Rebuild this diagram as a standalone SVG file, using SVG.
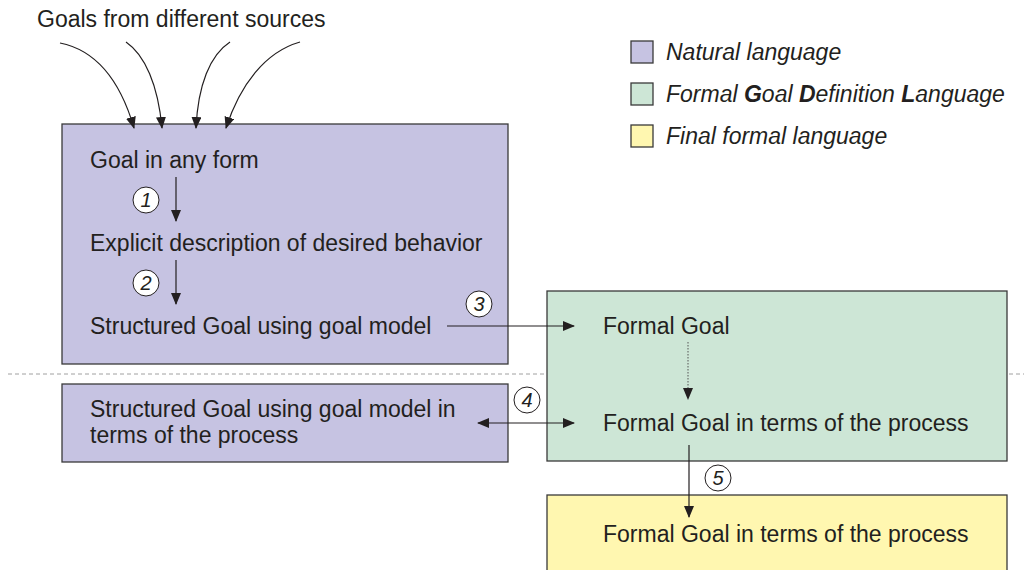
<svg xmlns="http://www.w3.org/2000/svg" width="1024" height="570" viewBox="0 0 1024 570">
<defs>
<style>
text{font-family:"Liberation Sans",Arial,sans-serif;font-size:23px;fill:#231f20}
.it{font-style:italic}
.box{stroke:#3a3a3a;stroke-width:1.3}
.nat{fill:#c6c3e2}
.fgdl{fill:#cde6d6}
.fin{fill:#fff7b0}
.ln{stroke:#231f20;stroke-width:1.2;fill:none}
.num{fill:#fff;stroke:#231f20;stroke-width:1}
.nt{font-style:italic;font-size:20px;text-anchor:middle}
</style>
<marker id="ah" markerWidth="12" markerHeight="10" refX="11" refY="5" orient="auto" markerUnits="userSpaceOnUse">
<path d="M0,0 L12,5 L0,10 z" fill="#231f20"/>
</marker>
<marker id="ahs" markerWidth="12" markerHeight="10" refX="1" refY="5" orient="auto" markerUnits="userSpaceOnUse">
<path d="M12,0 L0,5 L12,10 z" fill="#231f20"/>
</marker>
</defs>
<rect width="1024" height="570" fill="#fff"/>

<text x="37" y="27">Goals from different sources</text>

<line x1="8" y1="374" x2="1024" y2="374" stroke="#a0a0a0" stroke-width="1" stroke-dasharray="4,3"/>

<g id="legend">
<rect x="631" y="41" width="22" height="22" class="box nat"/>
<text x="666" y="60" class="it">Natural language</text>
<rect x="631" y="83" width="22" height="22" class="box fgdl"/>
<text x="666" y="102" class="it">Formal <tspan font-weight="bold">G</tspan>oal <tspan font-weight="bold">D</tspan>efinition <tspan font-weight="bold">L</tspan>anguage</text>
<rect x="631" y="125" width="22" height="22" class="box fin"/>
<text x="666" y="144" class="it">Final formal language</text>
</g>

<g id="natural-top">
<rect x="62" y="124" width="446" height="240" class="box nat"/>
<text x="90" y="168">Goal in any form</text>
<text x="90" y="251">Explicit description of desired behavior</text>
<text x="90" y="334">Structured Goal using goal model</text>
</g>

<g id="natural-bottom">
<rect x="62" y="384" width="446" height="78" class="box nat"/>
<text x="90" y="417">Structured Goal using goal model in</text>
<text x="90" y="443">terms of the process</text>
</g>

<g id="fgdl">
<rect x="547" y="291" width="460" height="170" class="box fgdl"/>
<text x="603" y="334">Formal Goal</text>
<text x="603" y="431">Formal Goal in terms of the process</text>
</g>

<g id="final">
<rect x="547" y="495" width="460" height="90" class="box fin"/>
<text x="603" y="542">Formal Goal in terms of the process</text>
</g>

<g id="connectors">
<path d="M60,43 C95,50 120,80 134,128" class="ln" marker-end="url(#ah)"/>
<path d="M126,42 C145,55 158,85 162,128" class="ln" marker-end="url(#ah)"/>
<path d="M230,42 C210,55 198,85 196,128" class="ln" marker-end="url(#ah)"/>
<path d="M300,42 C265,52 240,85 226,128" class="ln" marker-end="url(#ah)"/>
<line x1="176" y1="177" x2="176" y2="221" class="ln" marker-end="url(#ah)"/>
<line x1="176" y1="260" x2="176" y2="304" class="ln" marker-end="url(#ah)"/>
<line x1="447" y1="326" x2="574" y2="326" class="ln" marker-end="url(#ah)"/>
<line x1="688" y1="342" x2="688" y2="399" stroke="#555" stroke-width="1" stroke-dasharray="1.5,1.5" marker-end="url(#ah)"/>
<line x1="478" y1="423" x2="574" y2="423" class="ln" marker-start="url(#ahs)" marker-end="url(#ah)"/>
<line x1="689" y1="445" x2="689" y2="517" class="ln" marker-end="url(#ah)"/>
</g>

<g id="step-numbers">
<circle cx="146" cy="200" r="13" class="num"/><text x="146" y="207" class="nt">1</text>
<circle cx="146" cy="283" r="13" class="num"/><text x="146" y="290" class="nt">2</text>
<circle cx="479" cy="304" r="13" class="num"/><text x="479" y="311" class="nt">3</text>
<circle cx="527" cy="400" r="13" class="num"/><text x="527" y="407" class="nt">4</text>
<circle cx="718" cy="478" r="13" class="num"/><text x="718" y="485" class="nt">5</text>
</g>
</svg>
